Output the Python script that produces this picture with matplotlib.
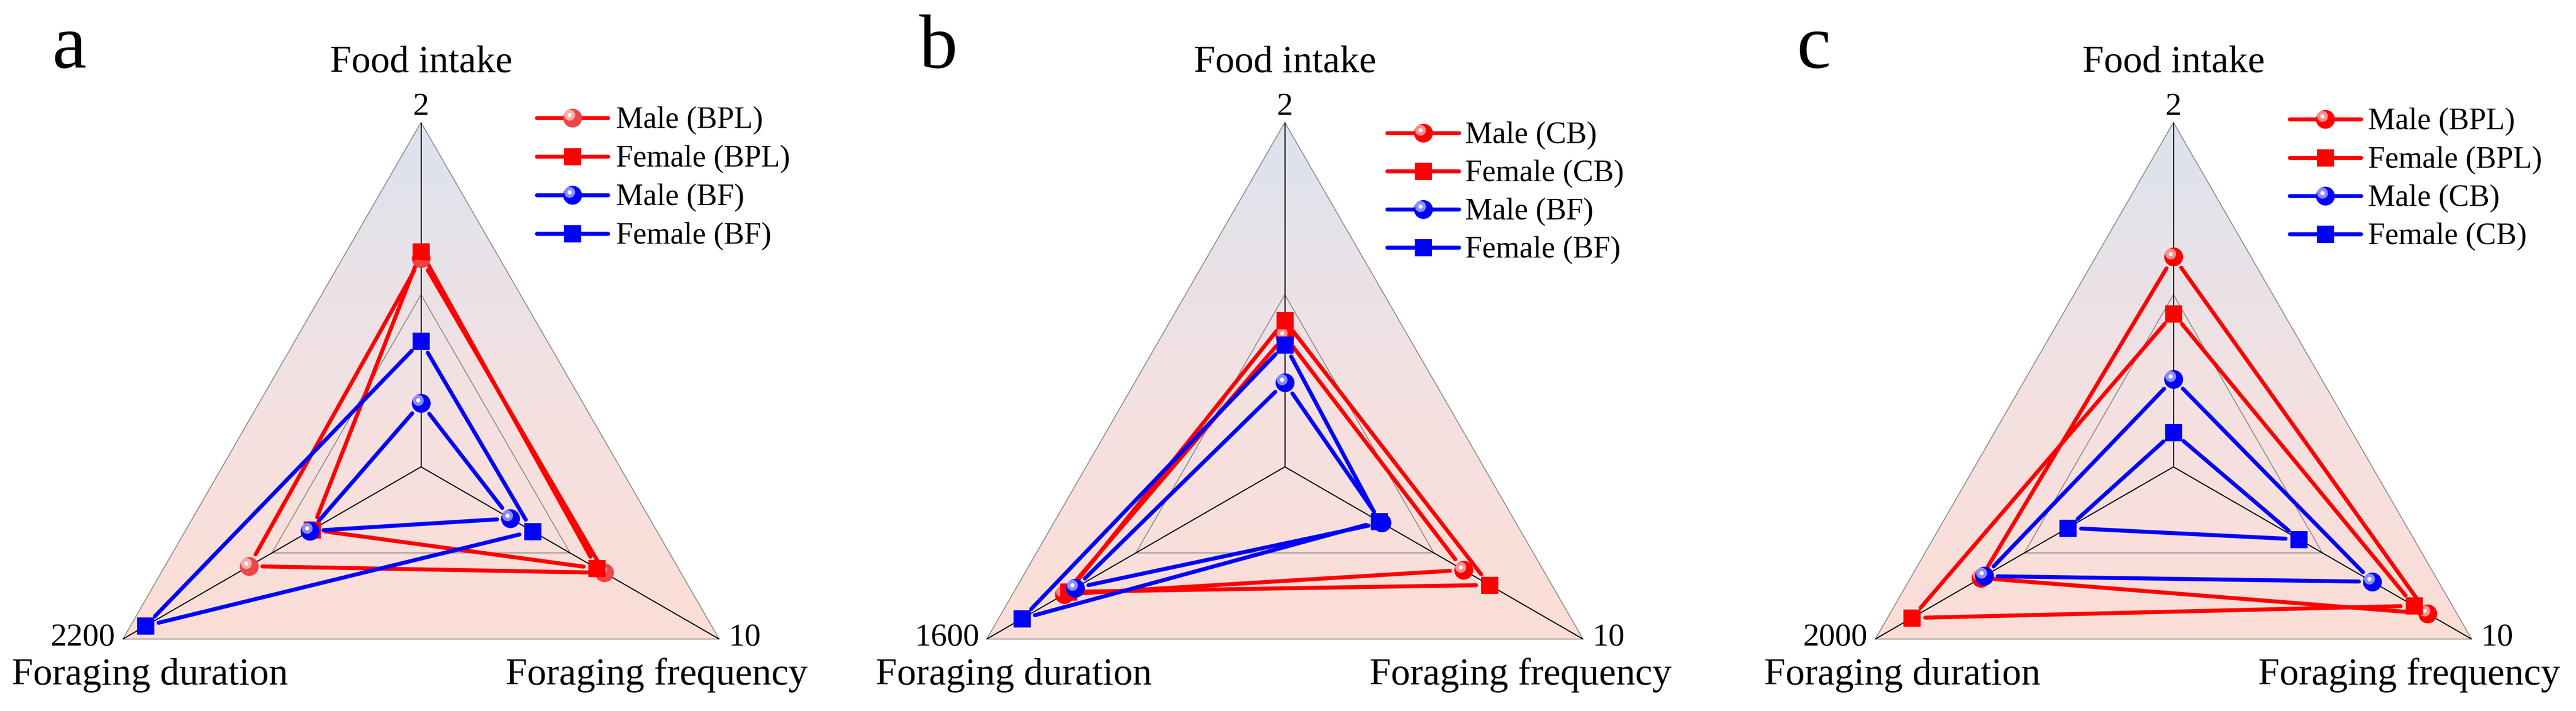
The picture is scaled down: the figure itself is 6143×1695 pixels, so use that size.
import numpy as np
import matplotlib
matplotlib.use('Agg')
import matplotlib.pyplot as plt
from matplotlib.patches import Polygon
from matplotlib.colors import LinearSegmentedColormap
import matplotlib.transforms as mtransforms

# ---------------- data ----------------
axis_names = ['Food intake', 'Foraging frequency', 'Foraging duration']
panel_letters = ['a', 'b', 'c']
axis_max_a = [2, 10, 2200]
axis_max_b = [2, 10, 1600]
axis_max_c = [2, 10, 2000]

series_a = ['Male (BPL)', 'Female (BPL)', 'Male (BF)', 'Female (BF)']
series_b = ['Male (CB)', 'Female (CB)', 'Male (BF)', 'Female (BF)']
series_c = ['Male (BPL)', 'Female (BPL)', 'Male (CB)', 'Female (CB)']

# values per series: [food intake, foraging frequency, foraging duration]
a_male_bpl = [1.21, 6.15, 1269]
a_female_bpl = [1.25, 5.90, 803]
a_male_bf = [0.37, 3.00, 819]
a_female_bf = [0.73, 3.74, 2033]

b_male_cb = [0.76, 5.99, 1184]
b_female_cb = [0.85, 6.86, 1161]
b_male_bf = [0.49, 3.25, 1125]
b_female_bf = [0.71, 3.16, 1411]

c_male_bpl = [1.22, 8.52, 1291]
c_female_bpl = [0.89, 8.07, 1755]
c_male_cb = [0.51, 6.67, 1269]
c_female_cb = [0.20, 4.21, 709]

# ---------------- style ----------------
RED = '#FF0000'
RED_A = '#EC4646'
BLUE = '#0000FF'
plt.rcParams['font.family'] = ['Liberation Serif', 'DejaVu Serif']

W, H, DPI = 6143, 1695, 300
R = 821.0
CY = 1113.0
CX = [1004.0, 3064.0, 5183.0]
ANG = np.deg2rad([90.0, -30.0, 210.0])
PX = 72.0 / DPI  # points per pixel

LW = 9.5 * PX
GAP = 32.0 / R

panels = [
    dict(maxes=axis_max_a, names=series_a,
         vals=[a_male_bpl, a_female_bpl, a_male_bf, a_female_bf],
         colors=[RED_A, RED, BLUE, BLUE], lcolors=[RED, RED, BLUE, BLUE],
         leg_x=(276, 446, 465), leg_y=[281, 373, 465, 557], letter_x=124),
    dict(maxes=axis_max_b, names=series_b,
         vals=[b_male_cb, b_female_cb, b_male_bf, b_female_bf],
         colors=[RED, RED, BLUE, BLUE], lcolors=[RED, RED, BLUE, BLUE],
         leg_x=(244, 415, 430), leg_y=[317, 408, 499, 590], letter_x=2192),
    dict(maxes=axis_max_c, names=series_c,
         vals=[c_male_bpl, c_female_bpl, c_male_cb, c_female_cb],
         colors=[RED, RED, BLUE, BLUE], lcolors=[RED, RED, BLUE, BLUE],
         leg_x=(277, 447, 464), leg_y=[284, 376, 467, 558], letter_x=4285),
]
markers = ['o', 's', 'o', 's']

fig = plt.figure(figsize=(W / DPI, H / DPI), dpi=DPI)

grad_cmap = LinearSegmentedColormap.from_list(
    'bg', [(0.0, '#FBDED6'), (0.45, '#F5E1E1'), (1.0, '#DCE3EE')])


def lighten(c, f):
    rgb = np.array(matplotlib.colors.to_rgb(c))
    return tuple(rgb + (1 - rgb) * f)


def draw_marker(ax, x, y, m, color, z):
    if m == 'o':
        ax.plot([x], [y], marker='o', ms=45 * PX, color=color, mec='none',
                ls='none', zorder=z)
        off = ax.transData + mtransforms.ScaledTranslation(
            -7 / DPI, 7 / DPI, fig.dpi_scale_trans)
        ax.plot([x], [y], marker='o', ms=26 * PX, color=lighten(color, 0.55),
                mec='none', ls='none', zorder=z + 0.1, transform=off)
        ax.plot([x], [y], marker='o', ms=10 * PX, color='white',
                mec='none', ls='none', zorder=z + 0.2, transform=off)
    else:
        ax.plot([x], [y], marker='s', ms=41 * PX, color=color, mec='none',
                ls='none', zorder=z)


for i, p in enumerate(panels):
    cx = CX[i]
    ax = fig.add_axes([0, 0, 1, 1])
    ax.set_xlim(-cx / R, (W - cx) / R)
    ax.set_ylim(-(H - CY) / R, CY / R)
    ax.axis('off')
    ax.patch.set_alpha(0)

    def px2d(xp, yp):
        return (xp - cx) / R, (CY - yp) / R

    vx = np.cos(ANG)
    vy = np.sin(ANG)

    # gradient background in triangle
    tri = Polygon(np.column_stack([vx, vy]), closed=True,
                  transform=ax.transData, facecolor='none', edgecolor='none')
    ax.add_patch(tri)
    grad = np.linspace(0, 1, 256).reshape(-1, 1)
    im = ax.imshow(grad, cmap=grad_cmap, origin='lower', aspect='auto',
                   extent=(vx.min(), vx.max(), -0.5, 1.0),
                   interpolation='bilinear', zorder=0)
    im.set_clip_path(tri)

    # grid triangles
    for lev in [0.5, 1.0]:
        ax.add_patch(Polygon(np.column_stack([vx * lev, vy * lev]), closed=True,
                             facecolor='none', edgecolor='#8A8A8A',
                             lw=2.2 * PX, zorder=1))
    # spokes
    for k in range(3):
        ax.plot([0, vx[k]], [0, vy[k]], color='black', lw=2.6 * PX,
                zorder=1.5, solid_capstyle='butt')

    # series
    pts_all = []
    for s, vals in enumerate(p['vals']):
        fr = np.array(vals, dtype=float) / np.array(p['maxes'], dtype=float)
        px_ = fr * vx
        py_ = fr * vy
        pts_all.append((px_, py_))
        for k in range(3):
            j = (k + 1) % 3
            x0, y0, x1, y1 = px_[k], py_[k], px_[j], py_[j]
            d = np.hypot(x1 - x0, y1 - y0)
            ux, uy = (x1 - x0) / d, (y1 - y0) / d
            ax.plot([x0 + ux * GAP, x1 - ux * GAP], [y0 + uy * GAP, y1 - uy * GAP],
                    color=p['lcolors'][s], lw=LW, solid_capstyle='round',
                    zorder=2 + s * 0.01)
    for s in range(4):
        px_, py_ = pts_all[s]
        for k in range(3):
            draw_marker(ax, px_[k], py_[k], markers[s], p['colors'][s], 3 + s)

    # legend
    lx0, lx1, tx = p['leg_x']
    for s in range(4):
        yy = p['leg_y'][s]
        xa, ya = px2d(cx + lx0, yy)
        xb, _ = px2d(cx + lx1, yy)
        ax.plot([xa, xb], [ya, ya], color=p['lcolors'][s], lw=LW,
                solid_capstyle='round', zorder=2)
        draw_marker(ax, (xa + xb) / 2, ya, markers[s], p['colors'][s], 3 + s)
        xt, yt = px2d(cx + tx, yy + 24)
        ax.text(xt, yt, p['names'][s], fontsize=17.5, ha='left', va='baseline')

    # axis labels
    x_, y_ = px2d(cx, 172)
    ax.text(x_, y_, axis_names[0], fontsize=22, ha='center', va='baseline')
    x_, y_ = px2d(cx, 274)
    ax.text(x_, y_, f"{p['maxes'][0]:g}", fontsize=18.5, ha='center', va='baseline')
    brx = cx + vx[1] * R
    blx = cx + vx[2] * R
    x_, y_ = px2d(brx + 22, 1539)
    ax.text(x_, y_, f"{p['maxes'][1]:g}", fontsize=18.5, ha='left', va='baseline')
    x_, y_ = px2d(blx - 18, 1539)
    ax.text(x_, y_, f"{p['maxes'][2]:g}", fontsize=18.5, ha='right', va='baseline')
    x_, y_ = px2d(brx - 149, 1632)
    ax.text(x_, y_, axis_names[1], fontsize=22, ha='center', va='baseline')
    x_, y_ = px2d(blx + 64, 1632)
    ax.text(x_, y_, axis_names[2], fontsize=22, ha='center', va='baseline')

    # panel letter
    x_, y_ = px2d(p['letter_x'], 161)
    ax.text(x_, y_, panel_letters[i], fontsize=44, ha='left', va='baseline')

fig.savefig('out.png', dpi=DPI)
